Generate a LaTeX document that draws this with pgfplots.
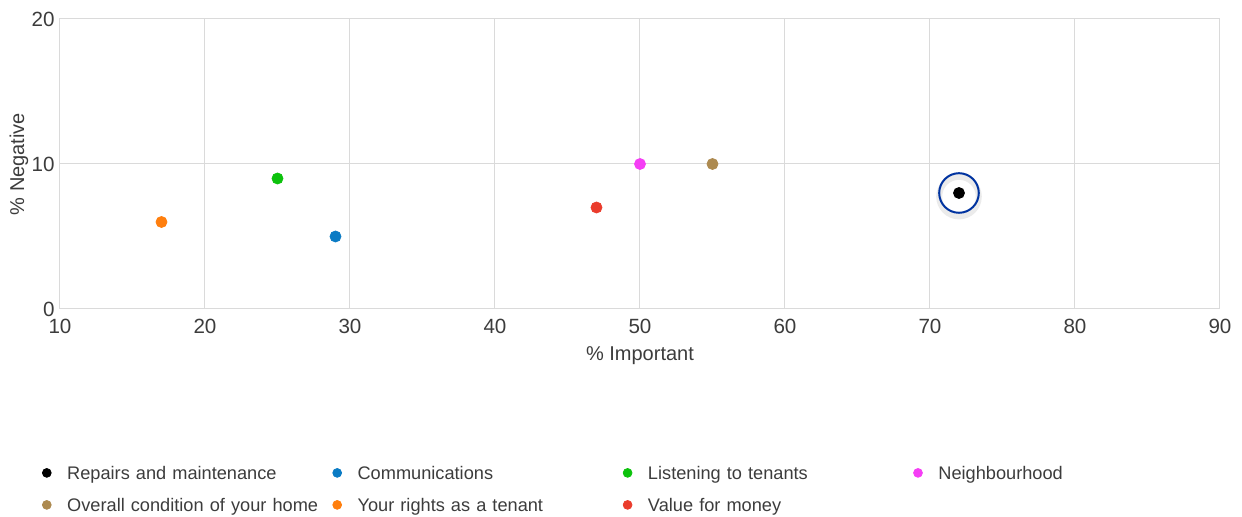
\documentclass[border=0pt]{standalone}
\usepackage{fontspec}
\setmainfont{Liberation Sans}
\usepackage{pgfplots}
\pgfplotsset{compat=1.18}
\definecolor{cRep}{HTML}{000000}
\definecolor{cCom}{HTML}{0A7BC4}
\definecolor{cLis}{HTML}{0CC20C}
\definecolor{cNei}{HTML}{F53EF5}
\definecolor{cOve}{HTML}{AD8A50}
\definecolor{cRig}{HTML}{FF7F0E}
\definecolor{cVal}{HTML}{EA3C2C}
\definecolor{hl}{HTML}{0033A0}
\definecolor{gridc}{HTML}{DADADA}
\definecolor{txt}{HTML}{3C3C3C}
\begin{document}
\begin{tikzpicture}
\begin{axis}[
  scale only axis, width=580pt, height=145pt,
  xmin=10, xmax=90, ymin=0, ymax=20,
  xtick={10,20,...,90}, ytick={0,10,20},
  grid=major, grid style={gridc, line width=0.5pt},
  axis line style={gridc, line width=0.5pt},
  major tick length=0pt,
  /pgf/number format/assume math mode=true,
  ticklabel style={font=\fontsize{10.3}{12}\selectfont, text=txt},
  yticklabel style={inner sep=0pt, xshift=-2.5pt},
  xticklabel style={inner sep=0pt, yshift=-5pt},
  xlabel={\% Important}, ylabel={\% Negative},
  label style={font=\fontsize{10}{12}\selectfont, text=txt},
  xlabel style={at={([yshift=-23.5pt]axis description cs:0.5,0)}, anchor=center},
  ylabel style={at={([xshift=-20.5pt]axis description cs:0,0.5)}, anchor=center},
  legend columns=4,
  legend cell align=left,
  legend image code/.code={\path[draw=none,fill=none] (-2.2pt,0) -- (10.2pt,0); \fill[#1] (0,0) circle (2.2pt);},
  legend style={at={([xshift=-9.2pt,yshift=-78.5pt]axis description cs:0,0)}, anchor=north west,
    draw=none, fill=none, inner sep=0pt, column sep=0pt, row sep=9.5pt,
    font=\fontsize{9.1}{11}\selectfont, text=txt,
    nodes={inner sep=0pt, text width=132.6pt, align=left, text height=6.5pt, text depth=0pt}},
  every axis plot/.append style={only marks, mark=*, mark size=2.75pt},
]
\addplot[only marks, mark=o, mark size=9.9pt, draw=black, opacity=0.08, line width=3pt, mark options={yshift=-1.8pt}, forget plot] coordinates {(72,8)};
\addplot[only marks, mark=o, mark size=9.9pt, draw=hl, line width=1pt, forget plot] coordinates {(72,8)};
\addplot[color=cRep, fill=cRep] coordinates {(72,8)};
\addlegendentry{Repairs and maintenance}
\addplot[color=cCom, fill=cCom] coordinates {(29,5)};
\addlegendentry{Communications}
\addplot[color=cLis, fill=cLis] coordinates {(25,9)};
\addlegendentry{Listening to tenants}
\addplot[color=cNei, fill=cNei] coordinates {(50,10)};
\addlegendentry{Neighbourhood}
\addplot[color=cOve, fill=cOve] coordinates {(55,10)};
\addlegendentry{Overall condition of your home}
\addplot[color=cRig, fill=cRig] coordinates {(17,6)};
\addlegendentry{Your rights as a tenant}
\addplot[color=cVal, fill=cVal] coordinates {(47,7)};
\addlegendentry{Value for money}
\end{axis}
\pgfresetboundingbox
\useasboundingbox (-30pt,-104pt) rectangle (591pt,154.5pt);
\end{tikzpicture}
\end{document}
